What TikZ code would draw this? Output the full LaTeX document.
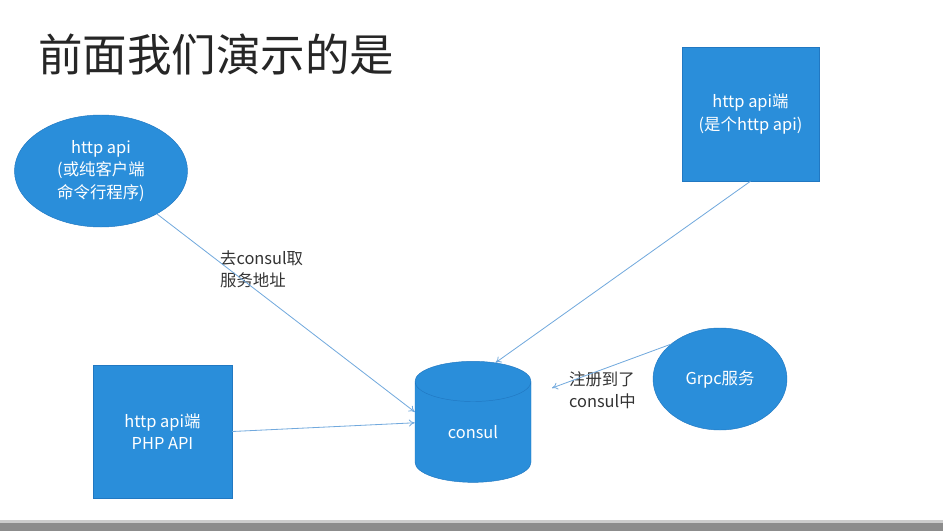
\documentclass[tikz,border=0pt]{standalone}
\usepackage{fontspec}
\setmainfont{Noto Sans CJK SC}
\usetikzlibrary{shapes.geometric,arrows.meta}
\definecolor{pptblue}{HTML}{2A8EDA}
\definecolor{pptedge}{HTML}{2178C2}
\definecolor{linkblue}{HTML}{72A9DD}
\definecolor{bargray}{HTML}{8C8C8C}

\begin{document}
\begin{tikzpicture}[x=0.03cm, y=-0.03cm,
  shapetext/.style={text=white, align=center, font=\fontsize{14}{19}\selectfont},
  box/.style={shapetext, fill=pptblue, draw=pptedge, line width=0.4pt, minimum width=4.11cm, minimum height=4.02cm, inner sep=0pt},
  blob/.style={shapetext, ellipse, fill=pptblue, draw=pptedge, line width=0.4pt, inner sep=0pt},
  db/.style={shapetext, cylinder, shape border rotate=90, aspect=0.8, fill=pptblue, draw=pptedge, line width=0.4pt, minimum width=3.48cm, minimum height=3.63cm, inner sep=0pt},
  note/.style={text=black!80, align=left, font=\fontsize{14}{19}\selectfont},
  link/.style={draw=linkblue, line width=0.7pt, -{To[length=5pt,width=6pt]}}]

\useasboundingbox (0,0) rectangle (943,531);
\fill[black!20] (0,520) rectangle (943,523);
\fill[bargray] (0,523) rectangle (943,531);

\node[anchor=west, font=\fontsize{38}{41}\selectfont, text=black!85] (title) at (34,55) {前面我们演示的是};

\node[blob, minimum width=5.19cm, minimum height=3.36cm] (cli) at (101,171) {http api\\(或纯客户端\\命令行程序)};
\node[box] (http) at (750.5,114) {http api端\\(是个http api)};
\node[box, minimum width=4.17cm, minimum height=3.99cm] (php) at (162.5,431.5) {http api端\\PHP API};
\node[db] (consul) at (473,432) {consul};
\node[blob, minimum width=4.02cm, minimum height=3.06cm] (grpc) at (720,379) {Grpc服务};

\node[note, anchor=west] (lookup) at (216,269) {去consul取\\服务地址};
\node[note, anchor=west] (reglabel) at (565,390) {注册到了\\consul中};
\coordinate (regend) at (552,388);

\draw[link] (cli) -- (consul.161);
\draw[link] (php.east) -- (consul.171);
\draw[link] (http.south) -- (consul.72);
\draw[link] (grpc.145) -- (regend);

\end{tikzpicture}
\end{document}
